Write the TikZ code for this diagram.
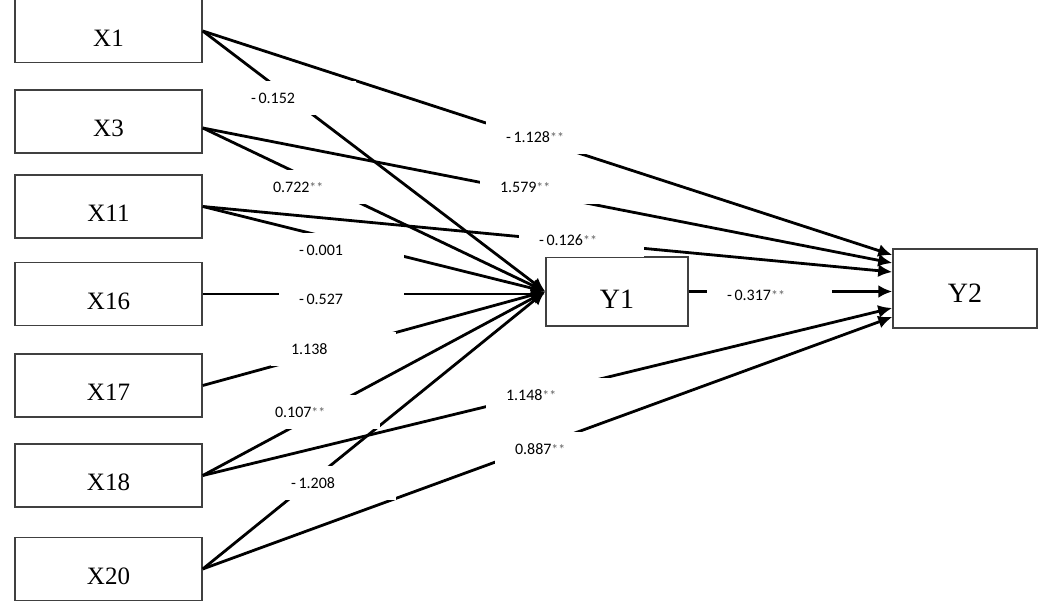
\documentclass[tikz,border=0pt]{standalone}
\usepackage{fontspec}
\setmainfont{Liberation Serif}
\setsansfont{Carlito}
\usetikzlibrary{arrows.meta}
\newcommand{\starsig}{{\scriptsize\textcolor{black!60}{**}}}

\begin{document}
\begin{tikzpicture}[x=0.5pt,y=-0.5pt,
  var/.style={draw=black!75,line width=0.75pt,minimum width=93.5pt,minimum height=31.5pt,inner sep=0pt,
    font=\fontsize{12.5}{14}\selectfont,text height=15.2pt,text depth=0pt},
  link/.style={line width=1.4pt,-{Latex[length=7pt,width=6.5pt]}},
  coef/.style={fill=white,font=\sffamily\footnotesize,text width=42.5pt,align=left,
    inner xsep=10pt,minimum height=17pt,anchor=text}]
\useasboundingbox (0,0) rectangle (1041,608);

% Predictors (left)
\node[var] (X1) at (108.5,31) {X1};
\node[var] (X3) at (108.5,121.5) {X3};
\node[var] (X11) at (108.5,206.5) {X11};
\node[var] (X16) at (108.5,294) {X16};
\node[var] (X17) at (108.5,385.5) {X17};
\node[var] (X18) at (108.5,475.5) {X18};
\node[var] (X20) at (108.5,569) {X20};

% Mediator and outcome
\node[var,minimum width=71pt,minimum height=34.5pt,font=\fontsize{14}{16}\selectfont,text height=16.8pt] (Y1) at (617,291.5) {Y1};
\node[var,minimum width=72pt,minimum height=39.5pt,font=\fontsize{14}{16}\selectfont,text height=13.8pt] (Y2) at (965,288.5) {Y2};

% Paths to Y1
\draw[link] (X1.east) -- (Y1.west);
\draw[link] ([yshift=-3.25pt]X3.east) -- (Y1.west);
\draw[link] (X11.east) -- (Y1.west);
\draw[link] (X16.east) -- (X16.east -| Y1.west);
\draw[link] (X17.east) -- (Y1.west);
\draw[link] (X18.east) -- (Y1.west);
\draw[link] (X20.east) -- (Y1.west);

% Paths to Y2
\draw[link] (X1.east) -- ([yshift=16.75pt]Y2.west);
\draw[link] ([yshift=-3.25pt]X3.east) -- ([yshift=12.75pt]Y2.west);
\draw[link] (X11.east) -- ([yshift=8.25pt]Y2.west);
\draw[link] (Y1.east) -- (Y1.east -| Y2.west);
\draw[link] (X18.east) -- ([yshift=-9.75pt]Y2.west);
\draw[link] (X20.east) -- ([yshift=-14.25pt]Y2.west);

% Coefficients
\node[coef] (b1) at (251,103.5) {-\,0.152};
\node[coef] (b2) at (506,142.5) {-\,1.128\starsig};
\node[coef] (b3) at (273,192.5) {0.722\starsig};
\node[coef] (b4) at (500,192.5) {1.579\starsig};
\node[coef] (b5) at (299,255.5) {-\,0.001};
\node[coef] (b6) at (539,245.5) {-\,0.126\starsig};
\node[coef] (b7) at (299,304.5) {-\,0.527};
\node[coef] (b8) at (291,354.5) {1.138};
\node[coef] (b9) at (275,417.5) {0.107\starsig};
\node[coef] (b10) at (506,400.5) {1.148\starsig};
\node[coef] (b11) at (291,488.5) {-\,1.208};
\node[coef] (b12) at (515,454.5) {0.887\starsig};
\node[coef] (b13) at (727,300.5) {-\,0.317\starsig};
\end{tikzpicture}
\end{document}
